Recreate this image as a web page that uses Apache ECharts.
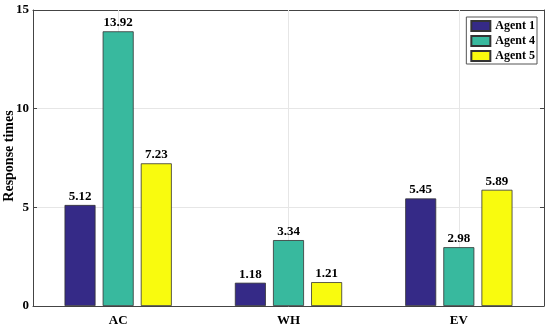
<!DOCTYPE html>
<html><head><meta charset="utf-8">
<script src="https://cdn.jsdelivr.net/npm/echarts@6/dist/echarts.min.js"></script>
<style>html,body{margin:0;padding:0;background:#fff}#c{width:550px;height:326px}</style>
</head><body><div id="c"></div>
<script>
const categories = ['AC', 'WH', 'EV'];
const agent1 = [5.12, 1.18, 5.45];
const agent4 = [13.92, 3.34, 2.98];
const agent5 = [7.23, 1.21, 5.89];
const seriesNames = ['Agent 1', 'Agent 4', 'Agent 5'];
const colors = ['#352a87', '#38b99e', '#f9fb0e'];
const yTicks = [0, 5, 10, 15];
const yName = 'Response times';

const font = 'Liberation Serif';
const chart = echarts.init(document.getElementById('c'), null, {renderer: 'canvas'});
const lbl = {show: true, position: 'top', distance: 2, color: '#000', fontFamily: font, fontWeight: 'bold', fontSize: 13,
  formatter: p => p.value.toFixed(2)};
function mk(name, data, color) {
  return {name, type: 'bar', data, barWidth: 31, barGap: '23%', z: 3,
    itemStyle: {color, borderColor: '#333', borderWidth: 0.8}, label: lbl};
}
chart.setOption({
  animation: false,
  textStyle: {fontFamily: font},
  grid: {left: 33, right: 6, top: 10, bottom: 20, containLabel: false, outerBoundsMode: 'none'},
  graphic: [{type: 'text', x: 9, y: 156, rotation: Math.PI / 2,
    style: {text: yName, fill: '#000', font: 'bold 14px "Liberation Serif"', align: 'center', verticalAlign: 'middle'}}],
  legend: {orient: 'vertical', right: 13, top: 17, itemWidth: 19, itemHeight: 10, itemGap: 3,
    padding: [3, 2, 2, 4], borderColor: '#555', borderWidth: 1, backgroundColor: '#fff',
    textStyle: {fontFamily: font, fontWeight: 'bold', fontSize: 12, lineHeight: 12, color: '#000'},
    data: seriesNames, icon: 'rect'},
  xAxis: [{type: 'category', data: categories, position: 'bottom',
    axisLine: {show: true, lineStyle: {color: '#444', width: 1}},
    axisTick: {show: true, alignWithLabel: true, inside: true, length: 4, lineStyle: {color: '#444'}},
    axisLabel: {color: '#000', fontFamily: font, fontWeight: 'bold', fontSize: 13, margin: 8},
    splitLine: {show: false}},
    {type: 'category', data: categories, position: 'top',
    axisLine: {show: true, onZero: false, lineStyle: {color: '#444', width: 1}},
    axisTick: {show: true, alignWithLabel: true, inside: true, length: 4, lineStyle: {color: '#444'}},
    axisLabel: {show: false}, splitLine: {show: false}}],
  yAxis: [{type: 'value', min: yTicks[0], max: yTicks[yTicks.length-1], interval: 5,
    axisLine: {show: true, lineStyle: {color: '#444', width: 1}},
    axisTick: {show: true, inside: true, length: 4, lineStyle: {color: '#444'}},
    axisLabel: {color: '#000', fontFamily: font, fontWeight: 'bold', fontSize: 13, margin: 4},
    splitLine: {show: true, lineStyle: {color: '#e6e6e6', width: 1}}},
    {type: 'value', min: 0, max: 15, interval: 5, position: 'right',
    axisLine: {show: true, onZero: false, lineStyle: {color: '#444', width: 1}},
    axisTick: {show: true, inside: true, length: 4, lineStyle: {color: '#444'}},
    axisLabel: {show: false}, splitLine: {show: false}}],
  series: [
    {name: 'grid', type: 'line', data: [], z: 1, silent: true,
      markLine: {silent: true, z: 1, zlevel: 0, symbol: 'none', label: {show: false},
        lineStyle: {color: '#e6e6e6', type: 'solid', width: 1},
        data: categories.map(c => ({xAxis: c}))}},
    mk(seriesNames[0], agent1, colors[0]), mk(seriesNames[1], agent4, colors[1]), mk(seriesNames[2], agent5, colors[2])]
});
</script></body></html>
